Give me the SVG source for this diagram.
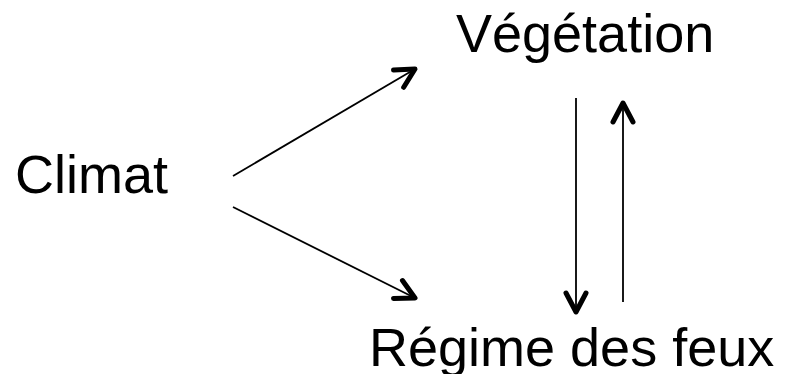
<svg xmlns="http://www.w3.org/2000/svg" width="792" height="374" viewBox="0 0 792 374">
<defs>
<style>
.lbl{font-family:"Liberation Sans",Arial,sans-serif;font-size:54px;fill:#000}
.con{stroke:#000;stroke-width:1.8;fill:none}
.head{fill:none;stroke:#000;stroke-width:5;stroke-linecap:round;stroke-linejoin:round}
</style>
<marker id="ah" markerUnits="userSpaceOnUse" viewBox="-26 -16 32 32" markerWidth="32" markerHeight="32" refX="0" refY="0" orient="auto" overflow="visible">
<path class="head" d="M-19,-10 L0,0 L-19,10"/>
</marker>
</defs>
<rect width="792" height="374" fill="#fff"/>
<g id="climat"><text class="lbl" x="15" y="193">Climat</text></g>
<g id="vegetation"><text class="lbl" x="456" y="52">Végétation</text></g>
<g id="regime"><text class="lbl" x="369" y="366">Régime des feux</text></g>
<g id="connectors">
<line class="con" x1="233" y1="176" x2="415" y2="69" marker-end="url(#ah)"/>
<line class="con" x1="233" y1="207" x2="415" y2="298" marker-end="url(#ah)"/>
<line class="con" x1="576" y1="98" x2="576" y2="312" marker-end="url(#ah)"/>
<line class="con" x1="623" y1="302" x2="623" y2="103" marker-end="url(#ah)"/>
</g>
</svg>
